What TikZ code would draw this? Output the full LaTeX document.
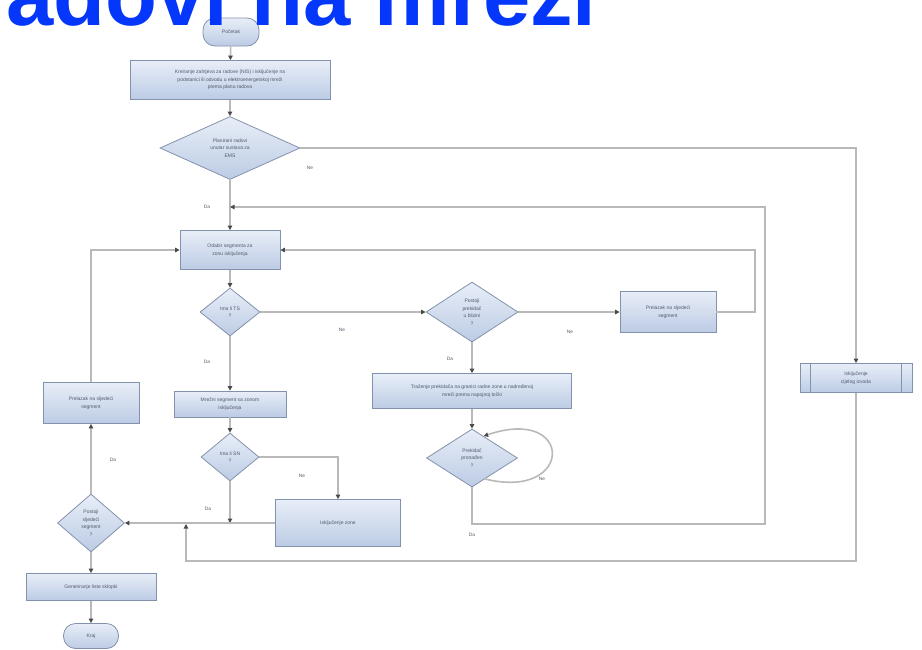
\documentclass[tikz,border=0pt]{standalone}
\usepackage{fontspec}
\setmainfont{Liberation Sans}
\usetikzlibrary{shapes.geometric,arrows.meta}
\definecolor{linegray}{HTML}{B9B9B9}
\definecolor{tipgray}{HTML}{4A4A4A}
\definecolor{boxborder}{HTML}{8392AC}
\definecolor{boxtop}{HTML}{E8EEF8}
\definecolor{boxbot}{HTML}{BCCBE4}
\definecolor{txtgray}{HTML}{505A6A}
\definecolor{titleblue}{RGB}{5,55,250}
\begin{document}
\begin{tikzpicture}[x=1pt,y=-1pt,
  line/.style={draw=linegray,line width=1.6pt},
  arr/.style={line,-{Triangle[length=4.5pt,width=4.5pt,color=tipgray]}},
  boxnode/.style={rectangle,draw=boxborder,line width=0.8pt,top color=boxtop,bottom color=boxbot,
    text=txtgray,align=center,inner sep=1pt,font=\fontsize{5}{7.5}\selectfont},
  term/.style={boxnode,rounded corners=12pt},
  dec/.style={diamond,draw=boxborder,line width=0.8pt,top color=boxtop,bottom color=boxbot,
    text=txtgray,align=center,inner sep=0pt,font=\fontsize{5}{7.5}\selectfont},
  lbl/.style={text=txtgray,font=\fontsize{4.8}{5}\selectfont,inner sep=0pt}
]
\useasboundingbox (0,0) rectangle (922,649);
% nodes
\node[term,minimum width=56,minimum height=28] (start) at (231,32) {Početak};
\node[boxnode,minimum width=200,minimum height=39] (box1) at (230,80)
  {Kreiranje zahtjeva za radove (NIS) i isključenje na\\podstanici ili odvodu u elektroenergetskoj mreži\\prema planu radova};
\node[dec,minimum width=140,minimum height=63,shape aspect=2.2] (d1) at (230,148)
  {Planirani radovi\\unutar sustava za\\EMS};
\node[boxnode,minimum width=100,minimum height=39] (box2) at (230,250)
  {Odabir segmenta za\\zonu isključenja};
\node[dec,minimum width=60,minimum height=48,shape aspect=1.3] (d2) at (230,312)
  {Ima li TS\\?};
\node[dec,minimum width=92,minimum height=60,shape aspect=1.5] (d3) at (472,312)
  {Postoji\\prekidač\\u blizini\\?};
\node[boxnode,minimum width=96,minimum height=41] (pb) at (668,312)
  {Prelazak na sljedeći\\segment};
\node[boxnode,minimum width=199,minimum height=35] (box4) at (472,391)
  {Traženje prekidača na granici radne zone u nadređenoj\\mreži prema napojnoj točki};
\node[dec,minimum width=91,minimum height=58,shape aspect=1.5] (d4) at (472,458)
  {Prekidač\\pronađen\\?};
\node[boxnode,minimum width=112,minimum height=26] (box3) at (230,404)
  {Mrežni segment sa zonom\\isključenja};
\node[dec,minimum width=58,minimum height=48,shape aspect=1.2] (d5) at (230,457)
  {Ima li SN\\?};
\node[boxnode,minimum width=125,minimum height=47] (box5) at (338,523)
  {Isključenje zone};
\node[dec,minimum width=67,minimum height=58,shape aspect=1.1] (d6) at (91,523)
  {Postoji\\sljedeći\\segment\\?};
\node[boxnode,minimum width=96,minimum height=41] (box6) at (91,403)
  {Prelazak na sljedeći\\segment};
\node[boxnode,minimum width=130,minimum height=27] (box7) at (91,587)
  {Generiranje liste sklopki};
\node[term,minimum width=55,minimum height=25] (end) at (91,636) {Kraj};
\node[boxnode,minimum width=112,minimum height=29] (rb) at (856,378)
  {Isključenje\\cijelog izvoda};
\draw[boxborder,line width=0.6pt] ([xshift=11pt]rb.north west) -- ([xshift=11pt]rb.south west);
\draw[boxborder,line width=0.6pt] ([xshift=-11pt]rb.north east) -- ([xshift=-11pt]rb.south east);
% coordinates
\coordinate (jt) at (230,207);
\coordinate (tr) at (765,207);
\coordinate (br) at (765,524);
\coordinate (r2) at (755,250);
\coordinate (l2) at (91,250);
\coordinate (j5) at (230,523);
\coordinate (jb) at (186,524);
\coordinate (bl) at (186,561);
\coordinate (rr) at (856,561);
% connectors
\draw[arr] (start) -- (box1);
\draw[arr] (box1) -- (d1);
\draw[arr] (d1) -- (box2);
\draw[arr] (d1.east) -| (rb.north);
\draw[arr] (rb.south) -- (rr) -- (bl) -- (jb);
\draw[arr] (d4.south) |- (br) -- (tr) -- (jt);
\draw[arr] (box2) -- (d2);
\draw[arr] (d2) -- (d3);
\draw[arr] (d3) -- (pb);
\draw[arr] (pb.east) -| (r2) -- (box2.east);
\draw[arr] (d3) -- (box4);
\draw[arr] (box4) -- (d4);
\draw[arr] (d4.-58) .. controls +(89,22) and +(91,-31) .. (d4.62);
\draw[arr] (d2) -- (box3);
\draw[arr] (box3) -- (d5);
\draw[arr] (d5.east) -| (box5.north);
\draw[arr] (d5.south) -- (j5);
\draw[arr] (box5.west) -- (d6.east);
\draw[arr] (d6) -- (box6);
\draw[arr] (box6.north) -- (l2) -- (box2.west);
\draw[arr] (d6) -- (box7);
\draw[arr] (box7) -- (end);
% labels
\node[lbl] (ld1n) at (310,168) {Ne};
\node[lbl] (ld1d) at (207,207) {Da};
\node[lbl] (ld2n) at (342,330) {Ne};
\node[lbl] (ld2d) at (207,362) {Da};
\node[lbl] (ld3n) at (570,332) {Ne};
\node[lbl] (ld3d) at (450,359) {Da};
\node[lbl] (ld5n) at (302,476) {Ne};
\node[lbl] (ld5d) at (208,509) {Da};
\node[lbl] (ld6d) at (113,460) {Da};
\node[lbl] (ld4n) at (542,479) {Ne};
\node[lbl] (ld4d) at (472,535) {Da};
% title
\node[anchor=base west,inner sep=0pt,text=titleblue,font=\fontsize{85}{85}\selectfont\bfseries] (title) at (6,25) {adovi na mrezi};
\end{tikzpicture}
\end{document}
